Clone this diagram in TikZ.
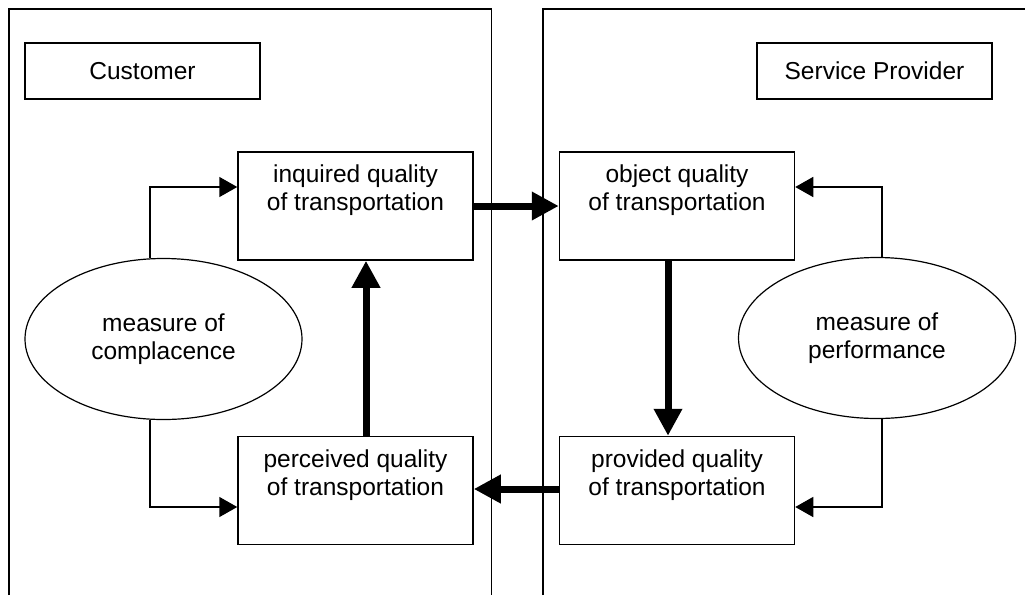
\documentclass[tikz,border=0pt]{standalone}
\usepackage{fontspec}
\setmainfont{Liberation Sans}
\usepackage{tikz}
\usetikzlibrary{arrows.meta,shapes.geometric}

\begin{document}
\begin{tikzpicture}[x=1pt,y=-1pt,line join=miter]
  % Colors
  \colorlet{linecolor}{black}

  % Styles
  \tikzstyle{panel}=[draw=linecolor,line width=1.5pt]
  \tikzstyle{party box}=[draw=linecolor,line width=1.5pt,minimum width=235pt,
    minimum height=56pt,inner sep=0pt,font=\fontsize{24.5}{28}\selectfont]
  \tikzstyle{quality box}=[draw=linecolor,line width=1.5pt,minimum width=235pt,
    minimum height=108pt,inner sep=0pt,align=center,
    font=\fontsize{24.5}{28}\selectfont]
  \tikzstyle{measure}=[draw=linecolor,ellipse,line width=1.2pt,minimum width=277pt,
    minimum height=161pt,inner sep=0pt,align=center,
    font=\fontsize{24.5}{28}\selectfont]
  \tikzstyle{feedback}=[linecolor,line width=1.5pt,-{Triangle[length=18pt,width=20pt]}]
  \tikzstyle{flow}=[linecolor,line width=7pt,-{Triangle[length=27pt,width=27pt]}]

  \useasboundingbox (0,0) rectangle (1025,595);

  % The two sides
  \draw[panel] (9,595) -- (9,9) -- (491.5,9) -- (491.5,595);
  \draw[panel] (543,595) -- (543,9) -- (1025,9);

  \node[party box] (customer) at (142.5,71) {Customer};
  \node[party box] (provider) at (874.5,71) {Service Provider};

  % Quality boxes
  \node[quality box] (inquired)  at (355.5,206)   {inquired quality\\of transportation\\\strut};
  \node[quality box] (perceived) at (355.5,490.5) {perceived quality\\of transportation\\\strut};
  \node[quality box] (object)    at (677,206)     {object quality\\of transportation\\\strut};
  \node[quality box] (provided)  at (677,490.5)   {provided quality\\of transportation\\\strut};

  % Measures
  \node[measure] (complacence) at (163.5,339) {measure of\\complacence};
  \node[measure] (performance) at (877,338)   {measure of\\performance};

  % Feedback loops
  \draw[feedback] ([xshift=-13.5pt]complacence.north) |- ([yshift=19pt]inquired.west);
  \draw[feedback] ([xshift=-13.5pt]complacence.south) |- ([yshift=-16.5pt]perceived.west);
  \draw[feedback] ([xshift=5pt]performance.north) |- ([yshift=19pt]object.east);
  \draw[feedback] ([xshift=5pt]performance.south) |- ([yshift=-16.5pt]provided.east);

  % Main flow
  \draw[flow] (inquired.east) -- (object.west);
  \draw[flow] ([xshift=-9pt]object.south) -- ([xshift=-9pt]provided.north);
  \draw[flow] ([yshift=1.5pt]provided.west) -- ([yshift=1.5pt]perceived.east);
  \draw[flow] ([xshift=10.5pt]perceived.north) -- ([xshift=10.5pt]inquired.south);
\end{tikzpicture}
\end{document}
